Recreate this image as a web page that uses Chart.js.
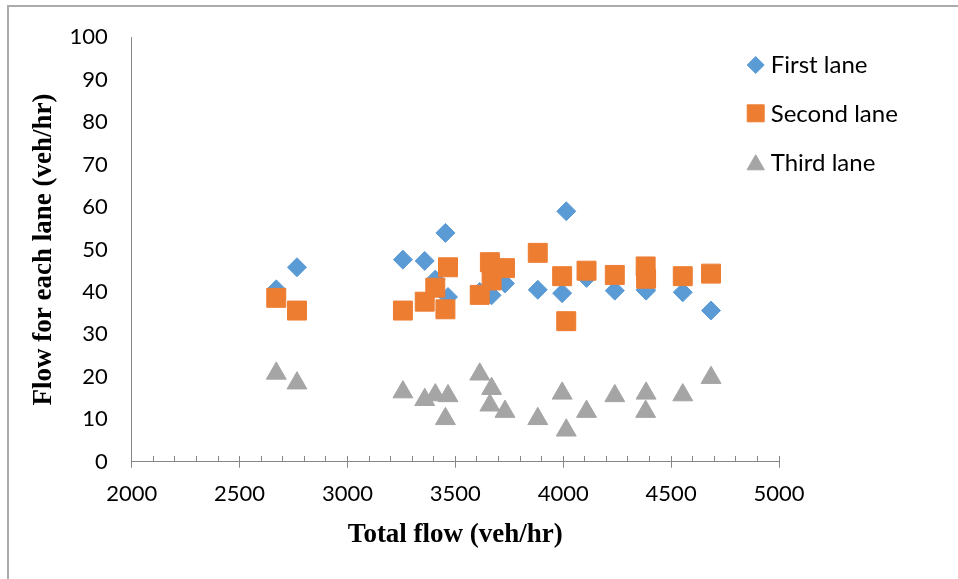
<!DOCTYPE html>
<html>
<head>
<meta charset="utf-8">
<script src="https://cdn.jsdelivr.net/npm/chart.js@4.4.1/dist/chart.umd.min.js"></script>
<style>
  html, body { margin: 0; padding: 0; background: #fff; }
  #wrap { position: relative; width: 958px; height: 579px; overflow: hidden; }
  #frame { position: absolute; left: 7px; top: 5px; width: 1000px; height: 1000px;
           border-left: 2px solid #ababab; border-top: 2px solid #ababab; }
  canvas { position: absolute; left: 0; top: 0; }
</style>
</head>
<body>
<div id="wrap">
  <div id="frame"></div>
  <canvas id="flowChart" width="958" height="579"></canvas>
</div>
<script>
// Werte
const totalFlow  = [2670, 2766, 3257, 3358, 3407, 3454, 3466, 3613, 3660, 3668, 3730, 3882, 3995, 4014, 4108, 4239, 4382, 4384, 4554, 4685];
const firstLane  = [40.6, 45.8, 47.6, 47.3, 42.9, 53.9, 38.8, 40.0, 39.5, 39.2, 42.0, 40.5, 39.7, 59.0, 43.3, 40.3, 40.5, 40.3, 39.9, 35.6];
const secondLane = [38.6, 35.6, 35.6, 37.7, 41.0, 35.9, 45.8, 39.3, 47.0, 42.7, 45.6, 49.2, 43.7, 33.1, 45.0, 44.0, 46.0, 43.1, 43.7, 44.3];
const thirdLane  = [20.8, 18.5, 16.4, 14.6, 15.7, 10.1, 15.5, 20.6, 13.3, 17.2, 11.8, 10.1, 16.1, 7.4, 11.8, 15.5, 11.8, 16.1, 15.7, 19.8];

const seriesNames  = ['First lane', 'Second lane', 'Third lane'];
const seriesColors = ['#5b9bd5', '#ed7d31', '#a5a5a5'];
const yTicks = [0, 10, 20, 30, 40, 50, 60, 70, 80, 90, 100];

const axisGray = '#868686';

function points(values) {
    return totalFlow.map((t, i) => ({ x: t, y: values[i] }));
}

// Legende rechts oben, innerhalb der Zeichenfläche
const sideLegend = {
    id: 'sideLegend',
    afterDraw(chart) {
        const ctx = chart.ctx;
        const markerY = [65, 113.3, 164.8];
        const textY = [72.8, 122.2, 170.5];
        const radii = [8.5, 12, 10];
        chart.data.datasets.forEach((ds, i) => {
            ctx.save();
            ctx.fillStyle = ds.backgroundColor;
            ctx.strokeStyle = ds.borderColor;
            ctx.lineWidth = 1;
            Chart.helpers.drawPoint(ctx, { pointStyle: ds.pointStyle, radius: radii[i], borderWidth: 1, rotation: 0 }, 755.7, markerY[i]);
            ctx.fillStyle = '#000';
            ctx.font = '24px Lato';
            ctx.textBaseline = 'alphabetic';
            ctx.textAlign = 'left';
            ctx.fillText(ds.label, 770.7, textY[i]);
            ctx.restore();
        });
    }
};

const ctx = document.getElementById('flowChart').getContext('2d');

new Chart(ctx, {
    type: 'scatter',
    data: {
        datasets: [{
            label: seriesNames[0],
            data: points(firstLane),
            pointStyle: 'rectRot',
            pointRadius: 9.5,
            backgroundColor: seriesColors[0],
            borderColor: seriesColors[0],
            borderWidth: 1,
            order: 3
        }, {
            label: seriesNames[1],
            data: points(secondLane),
            pointStyle: 'rect',
            pointRadius: 13.4,
            backgroundColor: seriesColors[1],
            borderColor: seriesColors[1],
            borderWidth: 1,
            order: 2
        }, {
            label: seriesNames[2],
            data: points(thirdLane),
            pointStyle: 'triangle',
            pointRadius: 11.5,
            backgroundColor: seriesColors[2],
            borderColor: seriesColors[2],
            borderWidth: 1,
            order: 1
        }]
    },
    options: {
        responsive: false,
        animation: false,
        layout: { padding: { left: 8, top: 36, right: 179, bottom: 0 } },
        plugins: {
            legend: { display: false },
            tooltip: { enabled: false }
        },
        scales: {
            x: {
                type: 'linear',
                position: 'bottom',
                min: 2000,
                max: 5000,
                ticks: {
                    stepSize: 500, padding: 13, color: '#000',
                    font: { family: 'Lato', size: 22 },
                    callback: v => String(v)
                },
                grid: { display: true, drawOnChartArea: false, drawTicks: true, tickLength: 6, color: axisGray },
                border: { display: true, color: axisGray, width: 1 },
                title: {
                    display: true,
                    text: 'Total flow (veh/hr)',
                    color: '#000',
                    font: { family: 'Liberation Serif', weight: 'bold', size: 27 },
                    padding: { top: 0, bottom: 27.8 }
                },
                afterFit: s => { s.height = 579 - 461.7; }
            },
            // kleine Striche alle 100, nach innen
            xMinor: {
                type: 'linear',
                axis: 'x',
                position: { y: 1.41 },
                min: 2000,
                max: 5000,
                ticks: { display: false, stepSize: 100 },
                grid: { display: true, drawOnChartArea: false, drawTicks: true, tickLength: 6, color: axisGray },
                border: { display: false },
                afterFit: s => { s.height = 0; }
            },
            y: {
                min: 0,
                max: 100,
                afterBuildTicks: s => { s.ticks = yTicks.map(v => ({ value: v })); },
                ticks: { padding: 24, color: '#000', font: { family: 'Lato', size: 22 } },
                grid: { display: false, drawTicks: false },
                border: { display: true, color: axisGray, width: 1 },
                title: {
                    display: true,
                    text: 'Flow for each lane (veh/hr)',
                    color: '#000',
                    font: { family: 'Liberation Serif', weight: 'bold', size: 27 },
                    padding: { top: 19.8, bottom: 0 }
                },
                afterFit: s => { s.width = 131.7 - 8; }
            }
        }
    },
    plugins: [sideLegend]
});
</script>
</body>
</html>
